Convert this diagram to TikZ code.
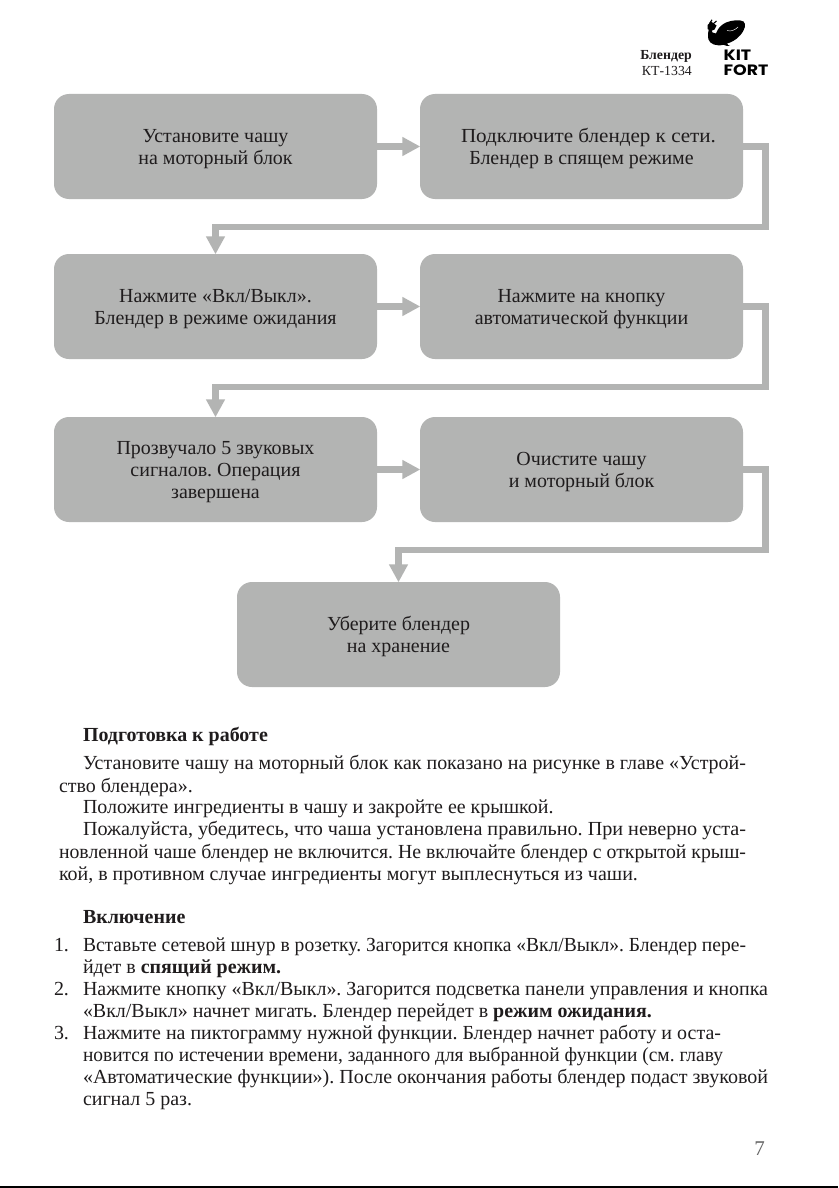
\documentclass[tikz,border=0pt]{standalone}
\usepackage{graphicx}
\usepackage{fontspec}
\setmainfont{Liberation Serif}
\newfontfamily\logofont{Poppins}
\usetikzlibrary{arrows.meta}
\definecolor{boxgray}{HTML}{B3B4B3}
\definecolor{ink}{HTML}{1F1C1D}
\newcommand{\bodysize}{\fontsize{19.95}{22}\selectfont\frenchspacing}
\newcommand{\jl}[2]{\resizebox{#1pt}{\height}{#2}}
\newcommand{\topfix}{\rule{0pt}{18pt}}
\tikzset{
  x=1pt,y=-1pt,
  stepbox/.style={fill=boxgray,draw=none,rounded corners=15pt,minimum width=323pt,minimum height=105pt,inner sep=0pt,align=center,text=ink,font=\bodysize},
  conn/.style={draw=boxgray,line width=6.4pt,-{Triangle[length=18pt,width=18pt]},shorten >=-0.5pt},
  line/.style={anchor=base west,inner sep=0pt,outer sep=0pt,text=ink,font=\bodysize},
  head/.style={line,font=\bodysize\bfseries},
  logo/.style={anchor=base west,inner sep=0pt,text=black,font=\logofont\bfseries\fontsize{15}{15}\selectfont},
}
\begin{document}
\begin{tikzpicture}
\useasboundingbox (0,0) rectangle (838,1188);
\fill[white] (0,0) rectangle (838,1188);
% boxes
\node[stepbox] (b1) at (215.5,146.5) {\topfix Установите чашу\\на моторный блок};
\node[stepbox] (b2) at (581.5,146.5) {\topfix\hspace*{14pt}\jl{255}{Подключите блендер к сети.}\\Блендер в спящем режиме};
\node[stepbox] (b3) at (215.5,306.5) {\topfix Нажмите «Вкл/Выкл».\\Блендер в режиме ожидания};
\node[stepbox] (b4) at (581.5,306.5) {\topfix Нажмите на кнопку\\автоматической функции};
\node[stepbox] (b5) at (215.5,469.5) {\topfix Прозвучало 5 звуковых\\сигналов. Операция\\завершена};
\node[stepbox] (b6) at (581.5,469.5) {\topfix Очистите чашу\\и моторный блок};
\node[stepbox] (b7) at (398.5,634.5) {\topfix Уберите блендер\\на хранение};
% connectors
\coordinate (r1) at (765.5,146.5); \coordinate (d1) at (765.5,227); \coordinate (l1) at (215.5,227);
\coordinate (r2) at (765.5,306.5); \coordinate (d2) at (765.5,387); \coordinate (l2) at (215.5,387);
\coordinate (r3) at (765.5,469.5); \coordinate (d3) at (765.5,550); \coordinate (l3) at (398.5,550);
\draw[conn] (b1.east) -- (b2.west);
\draw[conn] (b3.east) -- (b4.west);
\draw[conn] (b5.east) -- (b6.west);
\draw[conn] (b2.east) -- (r1) -- (d1) -- (l1) -- (b3.north);
\draw[conn] (b4.east) -- (r2) -- (d2) -- (l2) -- (b5.north);
\draw[conn] (b6.east) -- (r3) -- (d3) -- (l3) -- (b7.north);
% header
\node[anchor=base east,inner sep=0pt,text=ink,font=\fontsize{13.8}{15}\selectfont\bfseries] (h1) at (692,60) {Блендер};
\node[anchor=base east,inner sep=0pt,text=ink,font=\fontsize{13.8}{15}\selectfont] (h2) at (692,76) {КТ-1334};
\node[logo] (k1) at (723.5,60.3) {\scalebox{1.16}[1]{KIT}};
\node[logo] (k2) at (723.5,76) {\scalebox{1.16}[1]{FORT}};
% whale
\fill[black] (711,29)
  .. controls (711.5,32) and (713,34) .. (716,33.5)
  .. controls (718,28) and (721,25) .. (726,22.5)
  .. controls (732,20) and (740,19.5) .. (743.5,21.5)
  .. controls (746.5,24) and (745,30) .. (740,35.5)
  .. controls (736,40) and (731,42.5) .. (727,43.5)
  .. controls (727.5,44.5) and (728.5,45.5) .. (730,46)
  .. controls (727,46.2) and (725,45.5) .. (723.5,44.8)
  .. controls (716,46.5) and (710,44) .. (708.5,39.5)
  .. controls (707.5,36) and (708,32) .. (709,29) -- cycle;
\fill[black] (707.5,29) -- (707.5,25) -- (711,21.5) -- (716.5,25.5) -- (714.5,29.5) -- (711,31) -- cycle;
\draw[black,line width=1.1pt] (709.5,23.5) -- (712,19.8) (713,24) -- (716.5,21);
\draw[white,line width=0.45pt] (727,30.5) .. controls (731,32) and (735,30) .. (738,27);
% body text
\node[head] (t1) at (83,741.5) {Подготовка к работе};
\node[line] (t2) at (83,769.5) {\jl{663}{Установите чашу на моторный блок как показано на рисунке в главе «Устрой-}};
\node[line] (t3) at (59,792) {ство блендера».};
\node[line] (t4) at (83,813) {Положите ингредиенты в чашу и закройте ее крышкой.};
\node[line] (t5) at (83,835.5) {\jl{663}{Пожалуйста, убедитесь, что чаша установлена правильно. При неверно уста-}};
\node[line] (t6) at (59,858) {\jl{687}{новленной чаше блендер не включится. Не включайте блендер с открытой крыш-}};
\node[line] (t7) at (59,880) {кой, в противном случае ингредиенты могут выплеснуться из чаши.};
\node[head] (t8) at (83,923) {Включение};
\node[line] (n1) at (54,951) {1.};
\node[line] (t9) at (83,951) {\jl{663}{Вставьте сетевой шнур в розетку. Загорится кнопка «Вкл/Выкл». Блендер пере-}};
\node[line] (t10) at (83,973) {йдет в \textbf{спящий режим.}};
\node[line] (n2) at (54,995) {2.};
\node[line] (t11) at (83,995) {\jl{685}{Нажмите кнопку «Вкл/Выкл». Загорится подсветка панели управления и кнопка}};
\node[line] (t12) at (83,1017) {«Вкл/Выкл» начнет мигать. Блендер перейдет в \textbf{режим ожидания.}};
\node[line] (n3) at (54,1039) {3.};
\node[line] (t13) at (83,1039) {\jl{638}{Нажмите на пиктограмму нужной функции. Блендер начнет работу и оста-}};
\node[line] (t14) at (83,1061) {\jl{640}{новится по истечении времени, заданного для выбранной функции (см. главу}};
\node[line] (t15) at (83,1083) {\jl{685}{«Автоматические функции»). После окончания работы блендер подаст звуковой}};
\node[line] (t16) at (83,1105) {сигнал 5 раз.};
% page number
\node[anchor=base,inner sep=0pt,text=black!60,font=\fontsize{21}{22}\selectfont] (pg) at (759.5,1155) {7};
\fill[black] (0,1186) rectangle (838,1188);
\end{tikzpicture}
\end{document}
